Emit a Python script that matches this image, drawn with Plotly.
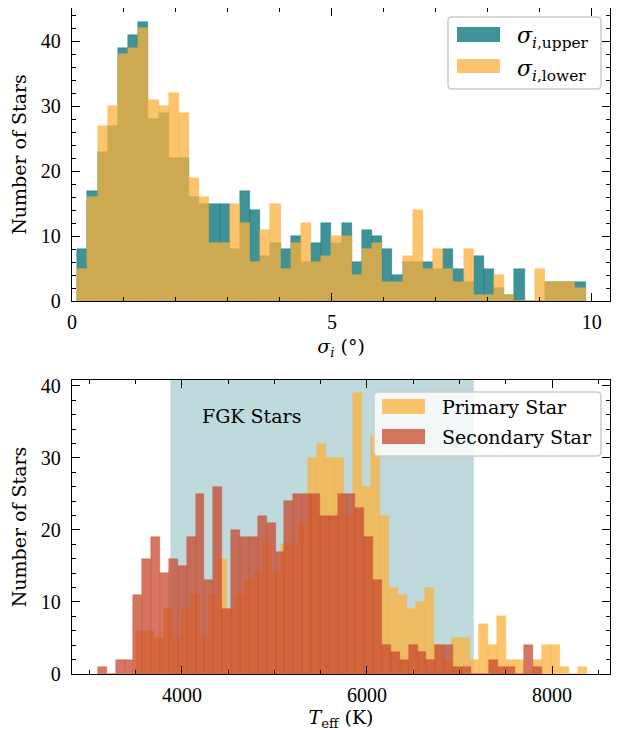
import numpy as np
import plotly.graph_objects as go
from plotly.subplots import make_subplots

# ---------------- data ----------------
# Top panel: sigma_i histograms (50 equal bins between these edges)
SIGMA_BIN_MIN, SIGMA_BIN_MAX = 0.10, 9.88
SIGMA_UPPER = [8, 17, 23, 27, 39, 41, 43, 28, 29, 22,
               22, 16, 15, 15, 15, 8, 17, 14, 7, 9,
               8, 10, 6, 9, 12, 9, 12, 6, 11, 10,
               8, 4, 6, 6, 6, 5, 8, 5, 3, 7,
               5, 2, 1, 5, 0, 0, 3, 3, 3, 3]
SIGMA_LOWER = [5, 16, 27, 30, 38, 39, 42, 31, 30, 32,
               29, 19, 16, 9, 9, 15, 12, 6, 11, 15,
               5, 9, 12, 6, 7, 10, 10, 4, 8, 9,
               3, 3, 7, 14, 5, 8, 5, 3, 8, 1,
               1, 4, 1, 0, 0, 5, 3, 3, 3, 2]

# Bottom panel: Teff histograms (50 equal bins each)
TEFF_PRIMARY_MIN, TEFF_PRIMARY_MAX = 3508, 8378
TEFF_PRIMARY = [6, 6, 5, 9, 5, 9, 11, 5, 11, 16,
                9, 11, 13, 14, 18, 14, 18, 18, 21, 30,
                32, 30, 30, 22, 39, 26, 33, 22, 12, 11,
                9, 10, 12, 4, 2, 5, 5, 2, 7, 4,
                8, 2, 2, 0, 2, 4, 4, 1, 0, 1]
TEFF_SECONDARY_MIN, TEFF_SECONDARY_MAX = 3091, 7891
TEFF_SECONDARY = [1, 0, 2, 2, 11, 16, 19, 14, 16, 15,
                  19, 25, 13, 26, 9, 20, 19, 19, 22, 21,
                  17, 24, 25, 25, 25, 22, 22, 25, 25, 23,
                  19, 13, 4, 3, 2, 4, 3, 2, 4, 4,
                  1, 1, 0, 0, 2, 1, 1, 0, 4, 1]
FGK_RANGE = (3875, 7155)

SIGMA_LABELS = ["<i>σ</i><sub><i>i</i>,upper</sub>", "<i>σ</i><sub><i>i</i>,lower</sub>"]
TEFF_LABELS = ["Primary Star", "Secondary Star"]


def bins(lo, hi, counts):
    edges = np.linspace(lo, hi, len(counts) + 1)
    return (edges[:-1] + edges[1:]) / 2, edges[1] - edges[0]


TEAL = "rgba(0,109,119,0.75)"
ORANGE = "rgba(251,177,60,0.75)"
RED = "rgba(200,72,45,0.75)"
SHADE = "rgba(0,109,119,0.25)"

TICKFONT = dict(family="Liberation Serif", size=20, color="black")
TEXTFONT = dict(family="DejaVu Serif", size=19, color="black")
SIGMAFONT = dict(family="DejaVu Serif", size=22, color="black")

# the page body has an 8px margin; layout below is given in page pixels
OFF = 8
W, H = 620, 730
PLOT_X0, PLOT_X1 = 72, 610          # page px of plot area left/right
PLOT_Y0, PLOT_Y1 = 8, 674           # page px of plot area top/bottom
Y_TOP_BOTTOM = 301                  # page px of top panel bottom edge
Y_BOT_TOP = 380                     # page px of bottom panel top edge
L = PLOT_X0 - OFF
R = W - (PLOT_X1 - OFF)
T = PLOT_Y0 - OFF
B = H - (PLOT_Y1 - OFF)
PW, PH = PLOT_X1 - PLOT_X0, PLOT_Y1 - PLOT_Y0


def px(x):
    return (x - PLOT_X0) / PW


def py(y):
    return (PLOT_Y1 - y) / PH


fig = make_subplots(rows=2, cols=1)

c, w = bins(SIGMA_BIN_MIN, SIGMA_BIN_MAX, SIGMA_UPPER)
fig.add_trace(go.Bar(x=c, y=SIGMA_UPPER, width=w, name=SIGMA_LABELS[0],
                     marker=dict(color=TEAL, line=dict(color=TEAL, width=0.5)),
                     showlegend=False), row=1, col=1)
fig.add_trace(go.Bar(x=c, y=SIGMA_LOWER, width=w, name=SIGMA_LABELS[1],
                     marker=dict(color=ORANGE, line=dict(color=ORANGE, width=0.5)),
                     showlegend=False), row=1, col=1)

c, w = bins(TEFF_PRIMARY_MIN, TEFF_PRIMARY_MAX, TEFF_PRIMARY)
fig.add_trace(go.Bar(x=c, y=TEFF_PRIMARY, width=w, name=TEFF_LABELS[0],
                     marker=dict(color=ORANGE, line=dict(color=ORANGE, width=0.5)),
                     showlegend=False), row=2, col=1)
c, w = bins(TEFF_SECONDARY_MIN, TEFF_SECONDARY_MAX, TEFF_SECONDARY)
fig.add_trace(go.Bar(x=c, y=TEFF_SECONDARY, width=w, name=TEFF_LABELS[1],
                     marker=dict(color=RED, line=dict(color=RED, width=0.5)),
                     showlegend=False), row=2, col=1)

axis_common = dict(showline=True, linecolor="black", linewidth=1.3, mirror="allticks",
                   ticks="inside", ticklen=8, tickwidth=1.3, tickcolor="black",
                   showgrid=False, zeroline=False, tickfont=TICKFONT, automargin=False,
                   minor=dict(ticks="inside", ticklen=4, tickwidth=1, tickcolor="black",
                              showgrid=False))

fig.update_xaxes(**axis_common)
fig.update_yaxes(**axis_common)

fig.update_layout(
    width=W, height=H, barmode="overlay", bargap=0,
    plot_bgcolor="white", paper_bgcolor="white",
    margin=dict(l=L, r=R, t=T, b=B),
    xaxis=dict(domain=[0, 1], range=[0, 10.35], tick0=0, dtick=5, minor_dtick=1,
               anchor="y", ticklabelstandoff=3,
               title=dict(text="<i>σ<sub>i</sub></i> (°)", font=TEXTFONT, standoff=7)),
    yaxis=dict(domain=[py(Y_TOP_BOTTOM), 1], range=[0, 45.1], tick0=0, dtick=10,
               minor_dtick=2, ticklabelstandoff=6,
               title=dict(text="Number of Stars", font=TEXTFONT, standoff=10)),
    xaxis2=dict(domain=[0, 1], range=[2811, 8627], tick0=0, dtick=2000, minor_dtick=500,
                anchor="y2", ticklabelstandoff=3,
                title=dict(text="<i>T</i><sub>eff</sub> (K)", font=TEXTFONT, standoff=5)),
    yaxis2=dict(domain=[0, py(Y_BOT_TOP)], range=[0, 40.83], tick0=0, dtick=10,
                minor_dtick=2, ticklabelstandoff=6,
                title=dict(text="Number of Stars", font=TEXTFONT, standoff=10)),
)

# FGK shaded region
fig.add_shape(type="rect", xref="x2", yref="y2 domain", x0=FGK_RANGE[0], x1=FGK_RANGE[1],
              y0=0, y1=1, fillcolor=SHADE, line=dict(width=0), layer="below")
fig.add_annotation(xref="x2", yref="y2", x=4750, y=35.8, text="FGK Stars", showarrow=False,
                   font=TEXTFONT, xanchor="center", yanchor="middle")


def rrect_path(x0, y0, x1, y1, r):
    pts = [("M", x0 + r, y0), ("L", x1 - r, y0), ("Q", x1, y0, x1, y0 + r),
           ("L", x1, y1 - r), ("Q", x1, y1, x1 - r, y1), ("L", x0 + r, y1),
           ("Q", x0, y1, x0, y1 - r), ("L", x0, y0 + r), ("Q", x0, y0, x0 + r, y0)]
    s = ""
    for p in pts:
        coords = p[1:]
        out = []
        for i in range(0, len(coords), 2):
            out.append(f"{px(coords[i]):.5f},{py(coords[i + 1]):.5f}")
        s += p[0] + " " + " ".join(out) + " "
    return s + "Z"


def legend(box, swatch_x, rows, font):
    fig.add_shape(type="path", xref="paper", yref="paper", path=rrect_path(*box, 4),
                  fillcolor="rgba(255,255,255,0.8)", line=dict(color="#cccccc", width=1.5),
                  layer="above")
    for (y0, y1, color, label, ty) in rows:
        fig.add_shape(type="rect", xref="paper", yref="paper",
                      x0=px(swatch_x[0]), x1=px(swatch_x[1]), y0=py(y1), y1=py(y0),
                      fillcolor=color, line=dict(width=0), layer="above")
        fig.add_annotation(xref="paper", yref="paper", x=px(swatch_x[1] + 15), y=py(ty),
                           text=label, showarrow=False, font=font,
                           xanchor="left", yanchor="middle")


legend((448, 17, 601, 89), (457, 500),
       [(27, 42, TEAL, SIGMA_LABELS[0], 38), (59, 73, ORANGE, SIGMA_LABELS[1], 70)],
       SIGMAFONT)
legend((374, 392, 601, 456), (382, 425),
       [(399, 414, ORANGE, TEFF_LABELS[0], 407), (429, 444, RED, TEFF_LABELS[1], 437)],
       TEXTFONT)

fig.write_html("out.html")
